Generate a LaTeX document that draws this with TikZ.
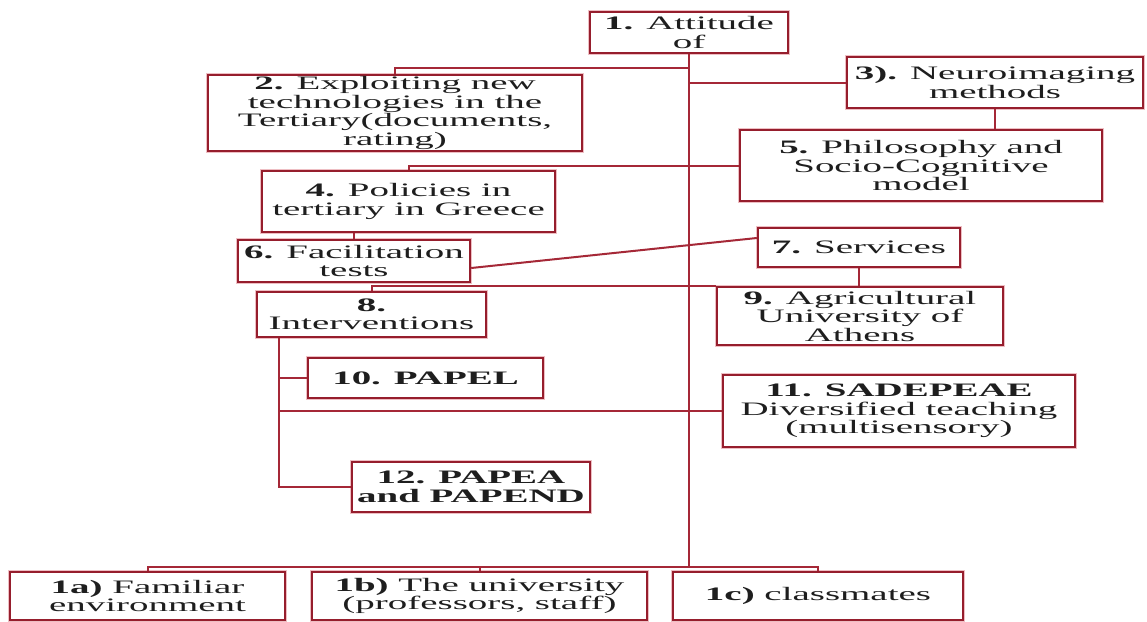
\documentclass[tikz,border=0pt]{standalone}
\usepackage{fontspec}
\setmainfont{Liberation Serif}[FakeStretch=2.05]
\usetikzlibrary{calc}
\definecolor{boxred}{RGB}{150,30,45}
\definecolor{linered}{RGB}{165,40,55}
\definecolor{halo}{RGB}{238,190,195}
\definecolor{txt}{RGB}{30,30,30}
\begin{document}
\begin{tikzpicture}[x=1pt,y=-1pt,
  box/.style={draw=boxred, line width=2.4pt, fill=white, align=center,
    inner sep=1pt, text=txt, font=\fontsize{19}{18.5}\selectfont,
    preaction={draw=halo, line width=4.5pt}},
  conn/.style={draw=linered, line width=2pt}]
\useasboundingbox (0,0) rectangle (1147,621);
\fill[white] (0,0) rectangle (1147,621);

% boxes
\node[box, minimum width=198, minimum height=41] (b1) at (689,32.5) {\textbf{1.} Attitude\\of};
\node[box, minimum width=374, minimum height=76] (b2) at (395,113) {\textbf{2.} Exploiting new\\technologies in the\\Tertiary(documents,\\rating)};
\node[box, minimum width=296, minimum height=51] (b3) at (995,82.5) {\textbf{3).} Neuroimaging\\methods};
\node[box, minimum width=362, minimum height=71] (b5) at (921,165.5) {\textbf{5.} Philosophy and\\Socio-Cognitive\\model};
\node[box, minimum width=293, minimum height=61] (b4) at (408.5,201.5) {\textbf{4.} Policies in\\tertiary in Greece};
\node[box, minimum width=232, minimum height=42] (b6) at (354,261) {\textbf{6.} Facilitation\\tests};
\node[box, minimum width=202, minimum height=39] (b7) at (859,247.5) {\textbf{7.} Services};
\node[box, minimum width=286, minimum height=58] (b9) at (860,316) {\textbf{9.} Agricultural\\University of\\Athens};
\node[box, minimum width=229, minimum height=45] (b8) at (371.5,314.5) {\textbf{8.}\\Interventions};
\node[box, minimum width=235, minimum height=40] (b10) at (425.5,378) {\textbf{10. PAPEL}};
\node[box, minimum width=352, minimum height=72] (b11) at (899,411) {\textbf{11. SADEPEAE}\\Diversified teaching\\(multisensory)};
\node[box, minimum width=238, minimum height=50] (b12) at (471,487) {\textbf{12. PAPEA}\\\textbf{and PAPEND}};
\node[box, minimum width=275, minimum height=48] (b1a) at (147.5,596) {\textbf{1a)} Familiar\\environment};
\node[box, minimum width=335, minimum height=48] (b1b) at (479.5,596) {\textbf{1b)} The university\\(professors, staff)};
\node[box, minimum width=290, minimum height=48] (b1c) at (818,596) {\textbf{1c)} classmates};

% helper coordinates
\coordinate (bar) at (0,567);
\coordinate (v8) at ($(b8.south west)+(23,0)$);

% connectors
\draw[conn] (b1.south) -- (b1.south |- bar);
\draw[conn] (b2.north) |- (b1.south |- 0,68);
\draw[conn] (b1.south |- b3.west) -- (b3.west);
\draw[conn] (b3.south) -- (b3.south |- b5.north);
\draw[conn] (b4.north) |- (b5.west);
\draw[conn] (b6.north) -- (b6.north |- b4.south);
\draw[conn] (b6.east |- 0,268) -- (b7.west |- 0,238);
\draw[conn] (b7.south) -- (b7.south |- b9.north);
\draw[conn] (b8.north) |- (b9.north west);
\draw[conn] (v8) |- (b12.west);
\draw[conn] (v8 |- b10.west) -- (b10.west);
\draw[conn] (v8 |- b11.west) -- (b11.west);
\draw[conn] (b1a.north) -- (b1a.north |- bar) -- (b1c.north |- bar) -- (b1c.north);
\draw[conn] (b1b.north) -- (b1b.north |- bar);
\end{tikzpicture}
\end{document}
